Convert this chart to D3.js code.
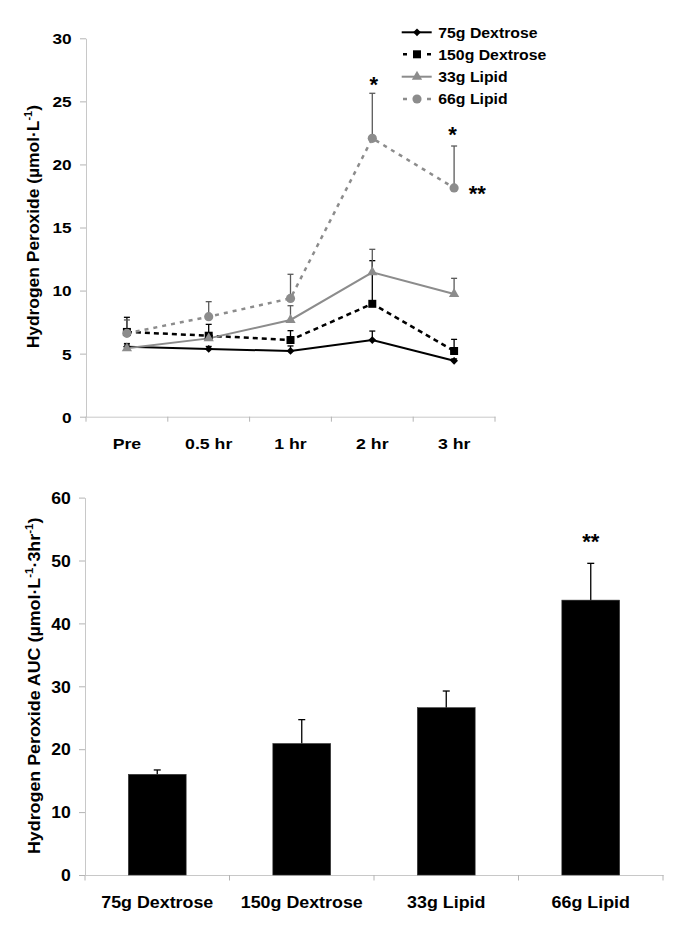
<!DOCTYPE html>
<html><head><meta charset="utf-8">
<script src="https://cdn.jsdelivr.net/npm/d3@7"></script>
<style>
body{margin:0;background:#fff}
text{font-family:"Liberation Sans",Arial,sans-serif;font-weight:bold;fill:#000}
</style>
</head><body><svg id="c" width="685" height="938"></svg>
<script>
// ---------- DATA ----------
const times = ["Pre", "0.5 hr", "1 hr", "2 hr", "3 hr"];
const seriesNames = ["75g Dextrose", "150g Dextrose", "33g Lipid", "66g Lipid"];
const dex75 = [5.55, 5.37, 5.21, 6.08, 4.43];
const dex75Err = [0.25, 0.2, 0.4, 0.71, 0.15];
const dex150 = [6.72, 6.42, 6.08, 8.95, 5.21];
const dex150Err = [1.16, 0.9, 0.74, 3.42, 0.92];
const lip33 = [5.42, 6.21, 7.67, 11.45, 9.73];
const lip33Err = [0.3, 0.4, 1.13, 1.82, 1.24];
const lip66 = [6.61, 7.93, 9.38, 22.07, 18.14];
const lip66Err = [1.06, 1.19, 1.91, 3.57, 3.32];
const yTicksTop = [0, 5, 10, 15, 20, 25, 30];

const groups = ["75g Dextrose", "150g Dextrose", "33g Lipid", "66g Lipid"];
const auc = [16.0, 20.9, 26.6, 43.7];
const aucErr = [0.7, 3.8, 2.65, 5.85];
const yTicksBottom = [0, 10, 20, 30, 40, 50, 60];

// ---------- STYLES ----------
const GRAY = "#8c8c8c";
const styles = [
  {color: "#000", dash: null, width: 2, marker: "diamond", err: "#000"},
  {color: "#000", dash: "5,4", width: 2.5, marker: "square", err: "#000"},
  {color: GRAY, dash: null, width: 2, marker: "triangle", err: "#5a5a5a"},
  {color: GRAY, dash: "4,5", width: 2.5, marker: "circle", err: "#5a5a5a"}
];
const seriesVals = [dex75, dex150, lip33, lip66];
const seriesErrs = [dex75Err, dex150Err, lip33Err, lip66Err];

function markerPath(type) {
  if (type === "diamond") return d3.symbol().type(d3.symbolSquare).size(30)();
  if (type === "square") return d3.symbol().type(d3.symbolSquare).size(64)();
  if (type === "triangle") return d3.symbol().type(d3.symbolTriangle).size(46)();
  return d3.symbol().type(d3.symbolCircle).size(66)();
}
function markerTransform(type, x, y) {
  return `translate(${x},${y})` + (type === "diamond" ? " rotate(45)" : "");
}

const svg = d3.select("#c");
const AX = "#c8c8c8", TK = "#b4b4b4";

// ========== TOP CHART ==========
const xT = d3.scaleBand().domain(times).range([86, 495]);
const yT = d3.scaleLinear().domain([0, 30]).range([416.7, 38.3]);
const cx = t => xT(t) + xT.bandwidth() / 2;

const gyT = svg.append("g").attr("transform", "translate(86,0)")
  .call(d3.axisLeft(yT).tickValues(yTicksTop).tickSize(6).tickSizeOuter(0));
gyT.select(".domain").attr("stroke", AX);
gyT.selectAll(".tick line").attr("stroke", TK);
gyT.selectAll(".tick text").attr("x", null).attr("dy", null)
  .attr("font-size", 15).attr("text-anchor", "end")
  .attr("transform", `translate(-14.3,${0.36 * 15}) scale(1.15,1)`);

const gxT = svg.append("g").attr("transform", "translate(0,416.7)")
  .call(d3.axisBottom(xT).tickSize(0).tickSizeOuter(0));
gxT.select(".domain").attr("stroke", AX);
gxT.selectAll(".tick text").attr("y", null).attr("dy", null)
  .attr("font-size", 15).attr("text-anchor", "middle")
  .attr("transform", "translate(0,32.3) scale(1.18,1)");
const boundsT = times.map(t => xT(t)).concat([xT.range()[1]]);
svg.append("g").selectAll("line").data(boundsT).join("line")
  .attr("x1", d => d).attr("x2", d => d).attr("y1", 416.7).attr("y2", 421.7)
  .attr("stroke", TK);

// y title
const tT = svg.append("text").attr("text-anchor", "middle").attr("font-size", 16)
  .attr("transform", "translate(38.5,226.7) rotate(-90) scale(1.09,1)");
tT.append("tspan").text("Hydrogen Peroxide (µmol·L");
tT.append("tspan").attr("font-size", 10).attr("dy", -7).text("-1");
tT.append("tspan").attr("dy", 7).text(")");

// lines
seriesVals.forEach((vals, si) => {
  const st = styles[si];
  const line = d3.line().x((d, i) => cx(times[i])).y(d => yT(d));
  svg.append("path").datum(vals).attr("d", line).attr("fill", "none")
    .attr("stroke", st.color).attr("stroke-width", st.width)
    .attr("stroke-dasharray", st.dash);
});
// error bars
seriesVals.forEach((vals, si) => {
  const st = styles[si];
  const g = svg.append("g").attr("stroke", st.err).attr("stroke-width", 1.3);
  vals.forEach((v, i) => {
    const x = cx(times[i]), y0 = yT(v), y1 = yT(v + seriesErrs[si][i]);
    g.append("line").attr("x1", x).attr("x2", x).attr("y1", y0).attr("y2", y1);
    g.append("line").attr("x1", x - 3).attr("x2", x + 3).attr("y1", y1).attr("y2", y1);
  });
});
// markers
seriesVals.forEach((vals, si) => {
  const st = styles[si];
  svg.append("g").selectAll("path").data(vals).join("path")
    .attr("d", markerPath(st.marker))
    .attr("transform", (d, i) => markerTransform(st.marker, cx(times[i]), yT(d)))
    .attr("fill", st.color);
});

// asterisks top
const star = (x, yc, s) => svg.append("text").attr("font-size", 22).attr("text-anchor", "middle")
  .attr("x", x).attr("y", yc + 0.58 * 22).text(s);
star(cx("2 hr") + 1.5, 79.3, "*");
star(cx("3 hr") - 1.5, 129.3, "*");
star(477.3, 188.3, "**");

// legend
const legY = [32.3, 54.3, 76.7, 99];
seriesNames.forEach((name, si) => {
  const st = styles[si];
  const y = legY[si];
  if (st.dash) {
    svg.append("line").attr("x1", 403).attr("x2", 431).attr("y1", y).attr("y2", y)
      .attr("stroke", st.color).attr("stroke-width", st.width).attr("stroke-dasharray", "4,8");
  } else {
    svg.append("line").attr("x1", 401.7).attr("x2", 431.7).attr("y1", y).attr("y2", y)
      .attr("stroke", st.color).attr("stroke-width", st.width);
  }
  svg.append("path").attr("d", markerPath(st.marker))
    .attr("transform", markerTransform(st.marker, 417, y)).attr("fill", st.color);
  svg.append("text").attr("font-size", 14.5)
    .attr("transform", `translate(438.3,${y + 0.36 * 14.5}) scale(1.09,1)`).text(name);
});

// ========== BOTTOM CHART ==========
const xB = d3.scaleBand().domain(groups).range([85, 663]);
const yB = d3.scaleLinear().domain([0, 60]).range([875, 497.6]);

const gyB = svg.append("g").attr("transform", "translate(85,0)")
  .call(d3.axisLeft(yB).tickValues(yTicksBottom).tickSize(6).tickSizeOuter(0));
gyB.select(".domain").attr("stroke", AX);
gyB.selectAll(".tick line").attr("stroke", TK);
gyB.selectAll(".tick text").attr("x", null).attr("dy", null)
  .attr("font-size", 16).attr("text-anchor", "end")
  .attr("transform", `translate(-14.3,${0.36 * 16}) scale(1.1,1)`);

const gxB = svg.append("g").attr("transform", "translate(0,875)")
  .call(d3.axisBottom(xB).tickSize(0).tickSizeOuter(0));
gxB.select(".domain").attr("stroke", AX);
gxB.selectAll(".tick text").attr("y", null).attr("dy", null)
  .attr("font-size", 17).attr("text-anchor", "middle")
  .attr("transform", "translate(0,32.5) scale(1.05,1)");
const boundsB = groups.map(g => xB(g)).concat([xB.range()[1]]);
svg.append("g").selectAll("line").data(boundsB).join("line")
  .attr("x1", d => d).attr("x2", d => d).attr("y1", 875).attr("y2", 880.5)
  .attr("stroke", TK);

const tB = svg.append("text").attr("text-anchor", "middle").attr("font-size", 17)
  .attr("transform", "translate(39.5,685.8) rotate(-90) scale(1.05,1)");
tB.append("tspan").text("Hydrogen Peroxide AUC (µmol·L");
tB.append("tspan").attr("font-size", 11).attr("dy", -7).text("-1");
tB.append("tspan").attr("dy", 7).text("·3hr");
tB.append("tspan").attr("font-size", 11).attr("dy", -7).text("-1");
tB.append("tspan").attr("dy", 7).text(")");

const bw = xB.bandwidth() * 0.4;
// error bars (drawn behind bars, upper part visible)
const gE = svg.append("g").attr("stroke", "#000").attr("stroke-width", 1.3);
groups.forEach((g, i) => {
  const x = xB(g) + xB.bandwidth() / 2;
  const y0 = yB(auc[i]), y1 = yB(auc[i] + aucErr[i]);
  gE.append("line").attr("x1", x).attr("x2", x).attr("y1", y0).attr("y2", y1);
  gE.append("line").attr("x1", x - 3.5).attr("x2", x + 3.5).attr("y1", y1).attr("y2", y1);
});
svg.append("g").selectAll("rect").data(auc).join("rect")
  .attr("x", (d, i) => xB(groups[i]) + xB.bandwidth() / 2 - bw / 2)
  .attr("width", bw)
  .attr("y", d => yB(d))
  .attr("height", d => yB(0) - yB(d))
  .attr("fill", "#000").attr("stroke", "#333").attr("stroke-width", 0.6);

star(xB("66g Lipid") + xB.bandwidth() / 2, 536, "**");
</script>
</body></html>
